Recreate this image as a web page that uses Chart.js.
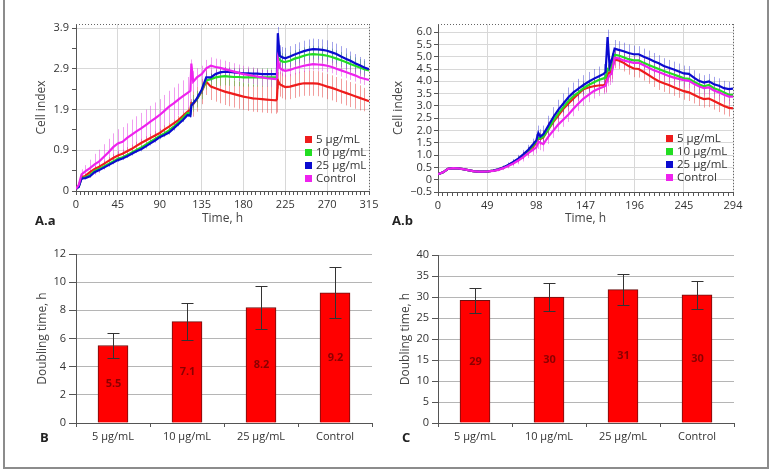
<!DOCTYPE html>
<html lang="en">
<head>
<meta charset="UTF-8">
<title>Cell index and doubling time</title>
<script src="https://cdn.jsdelivr.net/npm/chart.js"></script>
<style>
  body { margin: 0; background: #fff; font-family: 'Open Sans', 'Noto Sans', sans-serif; }
  #page { position: relative; width: 776px; height: 472px; overflow: hidden; }
  .frame { position: absolute; left: 3px; top: -2px; width: 762px; height: 467px; border: 2px solid #8c8c8c; }
  canvas { position: absolute; }
  .tag { position: absolute; font-weight: bold; font-size: 13px; color: #222; line-height: 18px; }
  .legend { position: absolute; font-size: 11.5px; color: #333; line-height: 13px; }
  .legend div { white-space: nowrap; }
  .legend span { display: inline-block; width: 7px; height: 7px; margin-right: 4px; vertical-align: 0px; }
</style>
</head>
<body>
<div id="page">
  <div class="frame"></div>
  <canvas id="chartAa" width="390" height="230" style="left:0;top:0"></canvas>
  <canvas id="chartAb" width="391" height="230" style="left:385px;top:0"></canvas>
  <canvas id="chartB" width="390" height="242" style="left:0;top:230px"></canvas>
  <canvas id="chartC" width="391" height="242" style="left:385px;top:230px"></canvas>
  <div class="legend" id="legendAa" style="left:305px;top:132px"></div>
  <div class="legend" id="legendAb" style="left:666px;top:131px"></div>
  <div class="tag" style="left:35px;top:211px">A.a</div>
  <div class="tag" style="left:392px;top:211px">A.b</div>
  <div class="tag" style="left:40px;top:428px">B</div>
  <div class="tag" style="left:402px;top:428px">C</div>
</div>

<script>
  // ---- series ----
  const seriesNames = ['5 µg/mL', '10 µg/mL', '25 µg/mL', 'Control'];
  const lineColors = ['#ee1c1c', '#22dd22', '#0b0bcf', '#ee22ee'];
  const errColors = ['rgba(230,60,60,0.5)', 'rgba(40,200,40,0.45)', 'rgba(50,50,210,0.45)', 'rgba(225,60,225,0.5)'];

  // A.a  (time, h)
  const timeA = [0,3,6,10,15,20,25,30,35,40,45,50,55,60,65,70,75,80,85,90,95,100,105,110,115,120,123,124,126,130,
    135,140,145,150,155,160,165,170,175,180,185,190,195,200,205,210,215,216,217,219,222,225,230,235,240,245,250,255,260,265,
    270,275,280,285,290,295,300,305,310,315];
  const dose5A = [0.05,0.12,0.33,0.36,0.45,0.53,0.58,0.65,0.72,0.79,
    0.85,0.89,0.95,1.01,1.08,1.15,1.21,1.27,1.33,1.39,
    1.47,1.54,1.62,1.7,1.8,1.9,1.95,2.1,2.08,2.2,
    2.38,2.62,2.5,2.46,2.42,2.38,2.35,2.32,2.29,2.26,
    2.24,2.22,2.21,2.2,2.19,2.18,2.17,2.2,2.65,2.56,
    2.52,2.49,2.5,2.53,2.56,2.58,2.58,2.58,2.57,2.54,
    2.5,2.47,2.43,2.39,2.35,2.31,2.27,2.23,2.19,2.15];
  const dose10A = [0.05,0.11,0.31,0.33,0.38,0.48,0.53,0.59,0.65,0.71,
    0.77,0.81,0.86,0.92,0.98,1.04,1.11,1.18,1.25,1.32,
    1.38,1.45,1.54,1.64,1.75,1.87,1.85,2.06,2.1,2.2,
    2.4,2.65,2.68,2.72,2.74,2.75,2.74,2.73,2.73,2.72,
    2.72,2.72,2.72,2.72,2.72,2.72,2.72,2.74,3.2,3.14,
    3.1,3.09,3.12,3.17,3.2,3.24,3.27,3.28,3.27,3.26,
    3.24,3.21,3.17,3.13,3.09,3.04,3.0,2.96,2.92,2.89];
  const dose25A = [0.05,0.1,0.3,0.31,0.35,0.45,0.5,0.56,0.62,0.68,
    0.74,0.78,0.83,0.89,0.95,1.0,1.07,1.14,1.21,1.29,
    1.34,1.4,1.5,1.6,1.7,1.82,1.8,2.05,2.1,2.22,
    2.42,2.72,2.72,2.8,2.84,2.86,2.85,2.84,2.83,2.82,
    2.82,2.81,2.81,2.8,2.8,2.8,2.8,2.82,3.78,3.24,
    3.2,3.18,3.22,3.27,3.31,3.35,3.38,3.4,3.39,3.38,
    3.36,3.32,3.28,3.22,3.17,3.12,3.06,3.01,2.96,2.92];
  const controlA = [0.05,0.15,0.4,0.47,0.55,0.64,0.71,0.82,0.93,1.05,
    1.14,1.18,1.27,1.35,1.43,1.5,1.58,1.66,1.74,1.82,
    1.92,2.02,2.1,2.19,2.27,2.35,2.4,3.05,2.62,2.72,
    2.8,2.94,3.0,2.97,2.95,2.92,2.89,2.86,2.83,2.8,
    2.78,2.76,2.74,2.72,2.7,2.69,2.68,2.7,3.15,2.95,
    2.9,2.88,2.9,2.94,2.97,3.0,3.02,3.04,3.03,3.02,
    3.0,2.97,2.93,2.89,2.85,2.81,2.77,2.72,2.69,2.66];
  const dose5ErrA = [0,0.03,0.05,0.05,0.06,0.07,0.08,0.08,0.09,0.1,
    0.1,0.1,0.1,0.1,0.1,0.1,0.1,0.1,0.1,0.1,
    0.1,0.1,0.1,0.1,0.1,0.1,0.1,0.1,0.3,0.3,
    0.3,0.32,0.32,0.32,0.32,0.32,0.32,0.32,0.32,0.32,
    0.32,0.32,0.32,0.32,0.32,0.32,0.32,0.32,0.2,0.3,
    0.3,0.3,0.3,0.3,0.3,0.3,0.3,0.3,0.3,0.3,
    0.3,0.3,0.3,0.3,0.3,0.3,0.3,0.3,0.28,0.28];
  const dose10ErrA = [0,0.02,0.04,0.04,0.05,0.05,0.05,0.05,0.05,0.05,
    0.05,0.05,0.05,0.05,0.05,0.05,0.05,0.05,0.05,0.06,
    0.06,0.06,0.07,0.07,0.08,0.08,0.08,0.1,0.2,0.2,
    0.2,0.22,0.22,0.22,0.22,0.22,0.22,0.22,0.22,0.22,
    0.22,0.22,0.22,0.22,0.22,0.22,0.22,0.22,0.15,0.2,
    0.2,0.2,0.2,0.2,0.2,0.2,0.2,0.2,0.2,0.2,
    0.2,0.2,0.2,0.2,0.2,0.2,0.2,0.2,0.2,0.2];
  const dose25ErrA = [0,0.02,0.03,0.03,0.03,0.04,0.04,0.04,0.04,0.04,
    0.04,0.04,0.04,0.04,0.04,0.05,0.05,0.05,0.05,0.05,
    0.05,0.05,0.05,0.05,0.05,0.05,0.05,0.08,0.1,0.1,
    0.1,0.1,0.1,0.1,0.1,0.1,0.1,0.1,0.1,0.1,
    0.1,0.1,0.1,0.1,0.1,0.1,0.1,0.1,0.15,0.25,
    0.25,0.25,0.25,0.25,0.25,0.25,0.25,0.25,0.25,0.25,
    0.25,0.25,0.25,0.25,0.25,0.22,0.22,0.2,0.2,0.2];
  const controlErrA = [0,0.05,0.12,0.15,0.2,0.25,0.28,0.3,0.32,0.33,
    0.34,0.35,0.35,0.36,0.36,0.37,0.37,0.38,0.38,0.38,
    0.38,0.38,0.38,0.38,0.38,0.38,0.38,0.1,0.25,0.22,
    0.2,0.2,0.2,0.2,0.2,0.2,0.2,0.2,0.2,0.2,
    0.2,0.2,0.2,0.2,0.2,0.2,0.2,0.2,0.1,0.15,
    0.15,0.15,0.15,0.15,0.15,0.15,0.15,0.15,0.15,0.15,
    0.15,0.15,0.15,0.15,0.15,0.15,0.15,0.15,0.15,0.15];

  // A.b  (time, h)
  const timeB = [0,5,10,15,20,25,30,35,40,45,50,55,60,65,70,75,80,85,90,95,
    98,100,102,105,110,115,120,125,130,135,140,145,150,155,160,165,167,169,171,173,
    176,180,185,190,195,200,205,210,215,220,225,230,235,240,245,250,255,260,265,270,
    275,280,285,290,294];
  const dose5B = [0.22,0.3,0.44,0.47,0.46,0.43,0.39,0.35,0.33,0.33,
    0.34,0.37,0.41,0.49,0.58,0.69,0.83,0.98,1.15,1.35,
    1.5,1.68,1.65,1.72,2.05,2.35,2.62,2.88,3.1,3.3,
    3.5,3.68,3.75,3.8,3.83,3.85,3.87,4.3,4.35,4.45,
    4.88,4.85,4.75,4.62,4.52,4.5,4.38,4.25,4.12,4.0,
    3.92,3.85,3.76,3.68,3.6,3.55,3.45,3.35,3.28,3.3,
    3.2,3.1,3.0,2.92,2.9];
  const dose10B = [0.22,0.3,0.44,0.47,0.46,0.43,0.39,0.35,0.33,0.33,
    0.34,0.37,0.41,0.49,0.59,0.7,0.84,1.0,1.18,1.4,
    1.55,1.7,1.68,1.75,2.05,2.4,2.7,2.95,3.2,3.4,
    3.55,3.72,3.85,3.95,4.05,4.12,4.15,4.5,4.45,4.6,
    5.08,5.05,4.98,4.9,4.85,4.85,4.75,4.66,4.58,4.5,
    4.42,4.35,4.28,4.2,4.12,4.1,3.98,3.88,3.8,3.85,
    3.72,3.65,3.55,3.45,3.45];
  const dose25B = [0.22,0.3,0.44,0.47,0.46,0.43,0.39,0.35,0.33,0.33,
    0.34,0.37,0.42,0.5,0.6,0.72,0.86,1.03,1.22,1.45,
    1.6,1.9,1.75,1.85,2.2,2.55,2.85,3.1,3.35,3.55,
    3.7,3.85,3.98,4.1,4.2,4.3,4.38,5.8,4.6,4.85,
    5.33,5.28,5.22,5.15,5.1,5.1,5.0,4.92,4.82,4.73,
    4.62,4.55,4.48,4.4,4.32,4.3,4.15,4.02,3.95,4.0,
    3.88,3.82,3.72,3.68,3.7];
  const controlB = [0.22,0.3,0.44,0.47,0.46,0.43,0.39,0.35,0.33,0.33,
    0.34,0.36,0.4,0.47,0.56,0.66,0.78,0.92,1.08,1.22,
    1.32,1.55,1.5,1.45,1.75,2.0,2.25,2.45,2.65,2.88,
    3.1,3.3,3.45,3.6,3.7,3.78,3.82,4.1,4.25,4.3,
    4.95,4.93,4.85,4.8,4.75,4.75,4.65,4.55,4.45,4.38,
    4.3,4.22,4.15,4.1,4.05,4.02,3.9,3.8,3.72,3.75,
    3.63,3.55,3.45,3.38,3.38];
  const dose5ErrB = [0.02,0.02,0.03,0.03,0.03,0.03,0.03,0.03,0.03,0.03,
    0.04,0.04,0.05,0.06,0.08,0.1,0.12,0.15,0.18,0.2,
    0.22,0.25,0.25,0.28,0.3,0.3,0.3,0.3,0.3,0.3,
    0.3,0.3,0.3,0.3,0.3,0.3,0.3,0.35,0.35,0.35,
    0.35,0.35,0.35,0.35,0.35,0.35,0.35,0.35,0.35,0.35,
    0.35,0.35,0.35,0.35,0.35,0.35,0.35,0.35,0.35,0.35,
    0.35,0.35,0.35,0.35,0.35];
  const dose10ErrB = [0.02,0.02,0.03,0.03,0.03,0.03,0.03,0.03,0.03,0.03,
    0.04,0.04,0.05,0.06,0.07,0.08,0.1,0.12,0.14,0.15,
    0.16,0.18,0.18,0.2,0.22,0.22,0.22,0.22,0.22,0.22,
    0.22,0.22,0.22,0.22,0.22,0.22,0.22,0.2,0.2,0.2,
    0.25,0.25,0.25,0.25,0.25,0.25,0.25,0.25,0.25,0.25,
    0.25,0.25,0.25,0.25,0.25,0.25,0.25,0.25,0.25,0.25,
    0.25,0.25,0.25,0.25,0.25];
  const dose25ErrB = [0.02,0.02,0.03,0.03,0.03,0.03,0.03,0.03,0.03,0.04,
    0.04,0.05,0.06,0.08,0.1,0.12,0.15,0.18,0.2,0.22,
    0.25,0.3,0.3,0.35,0.4,0.4,0.4,0.4,0.4,0.4,
    0.4,0.4,0.4,0.4,0.4,0.4,0.4,0.3,0.3,0.3,
    0.35,0.35,0.35,0.35,0.35,0.33,0.33,0.33,0.33,0.33,
    0.32,0.32,0.32,0.32,0.32,0.32,0.3,0.3,0.3,0.3,
    0.3,0.3,0.3,0.3,0.3];
  const controlErrB = [0.02,0.02,0.03,0.03,0.03,0.03,0.03,0.03,0.03,0.03,
    0.04,0.05,0.06,0.08,0.1,0.12,0.15,0.18,0.2,0.22,
    0.25,0.3,0.3,0.3,0.3,0.3,0.3,0.3,0.3,0.3,
    0.3,0.3,0.3,0.3,0.3,0.3,0.3,0.3,0.4,0.35,
    0.3,0.3,0.3,0.3,0.3,0.3,0.3,0.3,0.3,0.3,
    0.3,0.3,0.3,0.3,0.3,0.3,0.3,0.3,0.3,0.3,
    0.3,0.3,0.3,0.3,0.3];

  // axis ticks for A panels (the RTCA software truncates the labels)
  const yTicksAa = [0, 0.975, 1.95, 2.925, 3.9];
  const yLabelsAa = ['0', '0.9', '1.9', '2.9', '3.9'];
  const xTicksAa = [0, 45, 90, 135, 180, 225, 270, 315];
  const yTicksAb = [-0.5, 0, 0.5, 1, 1.5, 2, 2.5, 3, 3.5, 4, 4.5, 5, 5.5, 6];
  const yLabelsAb = ['−0.5', '0', '0.5', '1.0', '1.5', '2.0', '2.5', '3.0', '3.5', '4.0', '4.5', '5.0', '5.5', '6.0'];
  const xTicksAb = [0, 49, 98, 147, 196, 245, 294];

  // B and C: doubling time
  const doseLabels = ['5 µg/mL', '10 µg/mL', '25 µg/mL', 'Control'];
  const doublingB = [5.5, 7.2, 8.2, 9.25];
  const doublingErrB = [0.9, 1.3, 1.55, 1.8];
  const doublingTextB = ['5.5', '7.1', '8.2', '9.2'];
  const doublingC = [29.2, 30.0, 31.75, 30.5];
  const doublingErrC = [2.9, 3.3, 3.65, 3.35];
  const doublingTextC = ['29', '30', '31', '30'];

  Chart.defaults.font.family = "'Open Sans', 'Noto Sans', sans-serif";
  Chart.defaults.font.size = 11;
  Chart.defaults.color = '#333';

  // legends (html)
  ['legendAa', 'legendAb'].forEach(id => {
    document.getElementById(id).innerHTML = seriesNames
      .map((n, i) => `<div><span style="background:${lineColors[i]}"></span>${n}</div>`).join('');
  });

  // major ticks with unlabeled minor ticks between them
  function buildTicks(values, labels, parts) {
    const out = [];
    values.forEach((v, i) => {
      out.push({ value: v, lbl: labels[i] });
      if (i < values.length - 1) {
        const step = (values[i + 1] - v) / parts;
        for (let k = 1; k < parts; k++) out.push({ value: v + step * k, lbl: '' });
      }
    });
    return out;
  }
  const majorGrid = c => (c.tick && c.tick.lbl !== '') ? '#d8d8d8' : 'rgba(0,0,0,0)';

  const errorBars = {
    id: 'errorBars',
    beforeDatasetsDraw(chart) {
      if (chart.config.type !== 'line') return;
      const { ctx, chartArea: a, scales: { x, y } } = chart;
      ctx.save();
      ctx.beginPath();
      ctx.rect(a.left, a.top, a.right - a.left, a.bottom - a.top);
      ctx.clip();
      ctx.lineWidth = 1;
      chart.data.datasets.forEach(ds => {
        ctx.strokeStyle = ds.errorColor;
        ctx.beginPath();
        ds.data.forEach((p, i) => {
          const e = ds.errorValues[i];
          if (!e) return;
          const px = Math.round(x.getPixelForValue(p.x)) + 0.5;
          ctx.moveTo(px, y.getPixelForValue(p.y + e));
          ctx.lineTo(px, y.getPixelForValue(p.y - e));
        });
        ctx.stroke();
      });
      ctx.restore();
    },
    afterDatasetsDraw(chart) {
      if (chart.config.type !== 'bar') return;
      const { ctx, scales: { y } } = chart;
      const ds = chart.data.datasets[0];
      ctx.save();
      chart.getDatasetMeta(0).data.forEach((bar, i) => {
        const v = ds.data[i], e = ds.errorValues[i];
        const px = Math.round(bar.x) + 0.5;
        const top = Math.round(y.getPixelForValue(v + e)) + 0.5;
        const bot = Math.round(y.getPixelForValue(v - e)) + 0.5;
        ctx.strokeStyle = '#333';
        ctx.lineWidth = 1;
        ctx.beginPath();
        ctx.moveTo(px, top); ctx.lineTo(px, bot);
        ctx.moveTo(px - 6, top); ctx.lineTo(px + 6, top);
        ctx.moveTo(px - 6, bot); ctx.lineTo(px + 6, bot);
        ctx.stroke();
        ctx.fillStyle = '#8b0000';
        ctx.font = "bold 11px 'Open Sans', sans-serif";
        ctx.textAlign = 'center';
        ctx.textBaseline = 'middle';
        ctx.fillText(ds.valueText[i], px, y.getPixelForValue(v / 2));
      });
      ctx.restore();
    }
  };

  // dotted top/right edges of the RTCA plot box
  const plotBox = {
    id: 'plotBox',
    afterDraw(chart) {
      if (chart.config.type !== 'line') return;
      const { ctx, chartArea: a } = chart;
      ctx.save();
      ctx.strokeStyle = '#666';
      ctx.lineWidth = 1;
      ctx.setLineDash([1, 2]);
      ctx.beginPath();
      ctx.moveTo(a.left, a.top + 0.5); ctx.lineTo(a.right, a.top + 0.5);
      ctx.moveTo(a.right + 0.5, a.top); ctx.lineTo(a.right + 0.5, a.bottom);
      ctx.stroke();
      ctx.restore();
    }
  };

  function curveChart(id, times, values, errs, ax) {
    const drawOrder = [3, 2, 1, 0];
    new Chart(document.getElementById(id), {
      type: 'line',
      data: {
        datasets: values.map((vals, i) => ({
          label: seriesNames[i],
          data: times.map((t, k) => ({ x: t, y: vals[k] })),
          errorValues: errs[i],
          errorColor: errColors[i],
          borderColor: lineColors[i],
          borderWidth: 2.2,
          pointRadius: 0,
          tension: 0,
          order: drawOrder[i]
        }))
      },
      options: {
        responsive: false,
        animation: false,
        layout: { padding: ax.padding },
        plugins: { legend: { display: false }, tooltip: { enabled: false } },
        scales: {
          x: {
            type: 'linear', min: ax.xMin, max: ax.xMax,
            afterBuildTicks: s => { s.ticks = buildTicks(ax.xTicks, ax.xTicks.map(String), 10); },
            afterFit: s => { s.height = ax.xHeight; },
            ticks: { autoSkip: false, maxRotation: 0, padding: 3, callback: (v, i, t) => t[i].lbl },
            grid: { color: majorGrid, tickColor: '#555', tickLength: 4 },
            border: { color: '#555' },
            title: { display: true, text: 'Time, h', color: '#444', font: { size: 12 } }
          },
          y: {
            type: 'linear', min: ax.yMin, max: ax.yMax,
            afterBuildTicks: s => { s.ticks = buildTicks(ax.yTicks, ax.yLabels, ax.yParts); },
            afterFit: s => { s.width = ax.yWidth; },
            ticks: { autoSkip: false, padding: ax.yPad, callback: (v, i, t) => t[i].lbl },
            grid: { color: majorGrid, tickColor: '#555', tickLength: 4 },
            border: { color: '#555' },
            title: { display: true, text: 'Cell index', color: '#444', font: { size: 12 } }
          }
        }
      },
      plugins: [errorBars, plotBox]
    });
  }

  curveChart('chartAa', timeA, [dose5A, dose10A, dose25A, controlA],
    [dose5ErrA, dose10ErrA, dose25ErrA, controlErrA], {
      padding: { left: 30, right: 21, top: 24, bottom: 0 },
      xMin: 0, xMax: 315, xTicks: xTicksAa, xHeight: 39,
      yMin: 0, yMax: 4.0, yTicks: yTicksAa, yLabels: yLabelsAa, yParts: 2, yWidth: 46, yPad: 3
    });

  curveChart('chartAb', timeB, [dose5B, dose10B, dose25B, controlB],
    [dose5ErrB, dose10ErrB, dose25ErrB, controlErrB], {
      padding: { left: 2, right: 43, top: 24, bottom: 0 },
      xMin: 0, xMax: 294, xTicks: xTicksAb, xHeight: 38,
      yMin: -0.5, yMax: 6.33, yTicks: yTicksAb, yLabels: yLabelsAb, yParts: 1, yWidth: 51, yPad: 2
    });

  function barChart(id, values, errs, texts, ax) {
    new Chart(document.getElementById(id), {
      type: 'bar',
      data: {
        labels: doseLabels,
        datasets: [{
          data: values,
          errorValues: errs,
          valueText: texts,
          backgroundColor: '#ff0000',
          borderColor: '#6b1010',
          borderWidth: 1,
          barThickness: 30
        }]
      },
      options: {
        responsive: false,
        animation: false,
        layout: { padding: ax.padding },
        plugins: { legend: { display: false }, tooltip: { enabled: false } },
        scales: {
          x: {
            afterFit: s => { s.height = 30; },
            ticks: { padding: 3, color: '#333' },
            grid: { offset: true, drawOnChartArea: false, tickColor: '#555', tickLength: 4 },
            border: { color: '#555' }
          },
          y: {
            min: 0, max: ax.yMax,
            afterFit: s => { s.width = ax.yWidth; },
            ticks: { stepSize: ax.step, padding: 3, color: '#333' },
            grid: { color: '#b5b5b5', tickColor: '#555', tickLength: ax.tickLen },
            border: { color: '#555' },
            title: { display: true, text: 'Doubling time, h', color: '#444', font: { size: 12 } }
          }
        }
      },
      plugins: [errorBars]
    });
  }

  barChart('chartB', doublingB, doublingErrB, doublingTextB, {
    padding: { left: 31, right: 18, top: 24, bottom: 19 }, yMax: 12, step: 2, yWidth: 45, tickLen: 7
  });
  barChart('chartC', doublingC, doublingErrC, doublingTextC, {
    padding: { left: 9, right: 42, top: 25, bottom: 19 }, yMax: 40, step: 5, yWidth: 44, tickLen: 6
  });
</script>
</body>
</html>
